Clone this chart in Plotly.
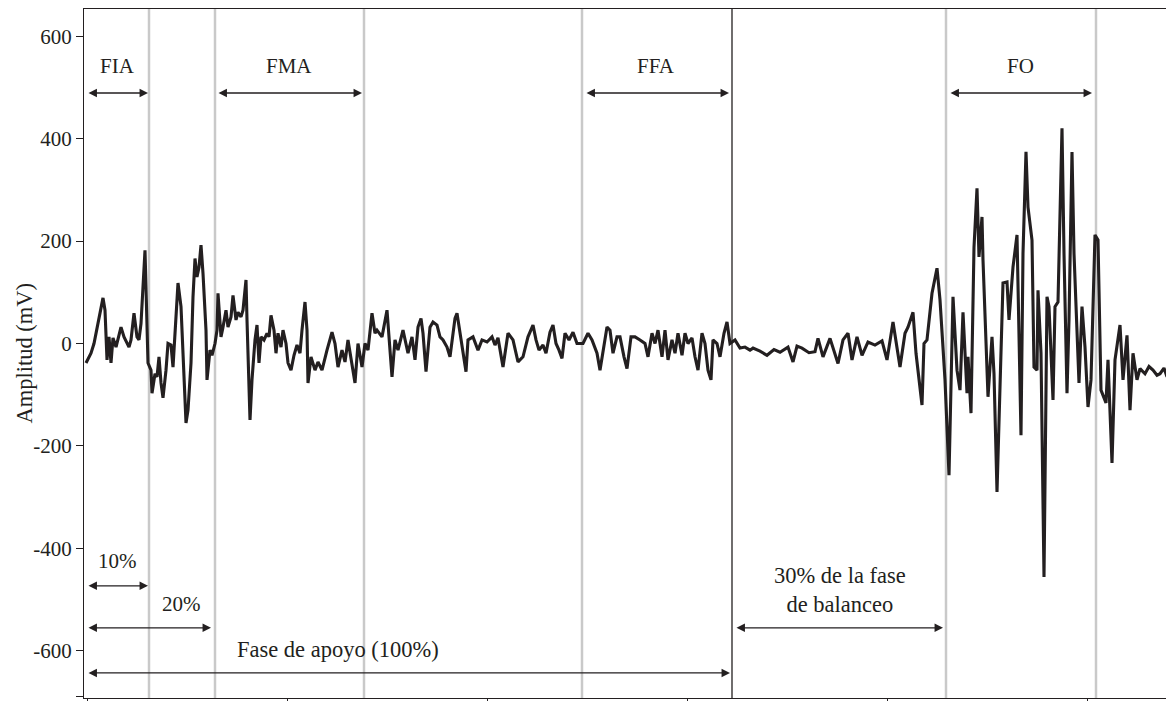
import plotly.graph_objects as go

# ---------------- data ----------------
# EMG trace: time (ms, origin at the first x tick) and amplitude (mV)
# early stance
t_early = [-1, 4, 7, 10, 13, 16, 18, 20, 22, 24, 26, 29, 34, 37, 42, 44, 47, 50, 52, 54,
           58, 59, 61, 64, 65, 68, 70, 72, 74, 76, 79, 81, 84, 86, 89, 91, 94, 96, 99, 101,
           104, 106, 108, 110, 112, 114, 116, 119, 120, 123, 125, 128, 130, 131, 134, 136, 139, 141, 144, 146,
           149, 151, 154, 156, 159, 160, 163, 165, 168, 170, 172, 174, 177, 180, 182, 184, 187, 189, 191, 194,
           196, 199, 201, 204, 207, 210, 213, 215, 218, 220, 221, 224]
v_early = [-38, -19, 0, 32, 65, 89, 65, -32, 13, -38, 11, -7, 32, 13, -7, 7, 59, 13, 7, 39,
           182, 91, -38, -52, -97, -59, -65, -26, -77, -106, -52, 0, -3, -46, 59, 118, 72, -26, -155, -130,
           -38, 91, 166, 130, 149, 192, 137, 26, -71, -13, -23, 0, 26, 98, 13, 32, 65, 32, 52, 94,
           46, 61, 52, 65, 124, 46, -149, -71, 7, 36, -38, 13, 7, 20, 13, 55, 26, -19, 20, -7,
           26, 0, -38, -52, -23, -3, -19, 26, 81, 26, -77, -26]
# mid stance
t_mid = [228, 231, 235, 240, 245, 248, 251, 255, 258, 261, 265, 268, 271, 275, 278, 281, 285, 288, 290, 295,
         300, 305, 308, 311, 316, 319, 321, 325, 328, 331, 334, 336, 339, 343, 346, 350, 353, 356, 360, 363,
         366, 368, 370, 373, 376, 379, 381, 386, 391, 395, 400, 405, 408, 411, 416, 421, 426, 431, 436, 441]
v_mid = [-52, -36, -52, -13, 22, 0, -46, -13, -36, 7, -46, -77, 0, -46, 0, -13, 59, 20, 26, 13,
         65, -65, 7, -13, 26, 0, -19, 13, -32, 32, 49, 20, -55, 32, 42, 36, 13, 7, -7, -26,
         20, 49, 59, 20, -26, -55, 7, 13, -13, 7, 3, 13, -3, 11, -46, 20, 7, -36, -26, 13]
# late stance
t_late = [446, 449, 452, 456, 459, 463, 466, 469, 472, 475, 478, 482, 486, 490, 496, 501, 505, 510, 513, 516,
          520, 523, 526, 530, 533, 537, 540, 544, 548, 553, 558, 561, 565, 568, 571, 575, 578, 581, 585, 588,
          591, 595, 598, 601, 605, 608, 611, 615, 618, 621, 624, 626, 630, 633, 637, 640, 643, 648, 653, 658,
          663]
v_late = [36, 7, -13, -3, -19, 22, 36, 0, -13, -29, 20, 7, 22, 0, 0, 20, 7, -19, -52, -13,
          32, 26, -19, 13, 13, -26, -49, 13, 13, 7, 0, -26, 20, 0, 26, -26, 26, -32, 7, -19,
          20, -23, 20, 0, 11, -26, -52, 20, 0, -52, -71, 7, 0, -26, 20, 42, 0, 7, -9, -7,
          -13]
# swing
t_swing = [666, 673, 680, 687, 693, 701, 706, 710, 715, 722, 728, 731, 736, 743, 751, 756, 761, 765, 770, 775,
           781, 788, 795, 800, 806, 813, 818, 821, 826, 829, 835, 837, 840, 845, 850, 853, 858, 862, 866, 870,
           873, 876, 880, 881, 884, 887, 890, 892, 895, 896, 901, 905, 907, 910, 913, 916, 920, 922, 926, 930,
           934, 936, 939, 941, 945, 947, 950, 951, 954, 957, 960, 962, 966, 968, 971, 975, 977, 980, 982, 985,
           987, 990, 992, 995, 998, 1001, 1004, 1008, 1011, 1014, 1019, 1021, 1025, 1028, 1033, 1036, 1040, 1043, 1046, 1050,
           1053, 1058, 1062, 1066, 1070, 1073, 1077, 1080, 1085]
v_swing = [-9, -15, -23, -12, -17, -7, -36, -5, -9, -18, -16, 10, -26, 10, -39, 7, 20, -32, 13, -23,
           3, -3, 5, -32, 42, -46, 20, 32, 61, -19, -120, 0, 7, 98, 147, 85, -71, -257, 91, -52,
           -91, 61, -97, -26, -136, 188, 303, 169, 247, 163, -104, 13, -59, -290, -85, 118, 120, 46, 149, 212,
           -179, 176, 374, 266, 202, -46, -52, 104, -19, -456, 91, 72, -110, 72, 81, 420, 176, -97, 46, 374,
           176, 32, -77, 72, -7, -124, -71, 212, 202, -91, -116, -32, -233, -32, 36, -71, 16, -130, -19, -71,
           -49, -59, -45, -52, -62, -59, -48, -65, -38]

# phase boundaries (ms)
phase_boundaries = [62, 128, 277, 495, 859, 1009]
stance_end = 645

# phase labels on top
top_labels = ["FIA", "FMA", "FFA", "FO"]
top_label_x = [30, 202, 569, 933]
top_spans = [(0, 61), (130, 275), (498, 642), (862, 1005)]

# bottom duration annotations
bottom_labels = ["10%", "20%", "Fase de apoyo (100%)", "30% de la fase<br>de balanceo"]
bottom_label_x = [30, 94, 251, 753]
bottom_label_y = [-424, -508, -598, -481]
bottom_label_size = [21, 21, 22.5, 22.5]
bottom_spans = [(0, 61), (0, 124), (0, 643), (648, 856)]
bottom_span_y = [-473, -555, -643, -555]

y_tick_vals = [-690, -600, -400, -200, 0, 200, 400, 600]
y_tick_text = ["", "-600", "-400", "-200", "0", "200", "400", "600"]
x_tick_vals = [0, 200, 400, 600, 800, 1000]

INK = "#231f20"
FONT = "Liberation Serif"

time_ms = t_early + t_mid + t_late + t_swing
amplitude_mv = v_early + v_mid + v_late + v_swing

fig = go.Figure()
fig.add_trace(go.Scatter(
    x=time_ms, y=amplitude_mv, mode="lines",
    line=dict(color=INK, width=3.1), hoverinfo="skip", showlegend=False,
))

shapes = []
for b in phase_boundaries:
    shapes.append(dict(type="line", xref="x", yref="paper", x0=b, x1=b, y0=0, y1=1,
                       line=dict(color="#c9c9c9", width=2.5), layer="below"))
shapes.append(dict(type="line", xref="x", yref="paper", x0=stance_end, x1=stance_end, y0=0, y1=1,
                   line=dict(color=INK, width=1.3), layer="above"))

annotations = []
top_arrow_y = 489
top_text_y = 541
for lab, lx, (a0, a1) in zip(top_labels, top_label_x, top_spans):
    annotations.append(dict(x=lx, y=top_text_y, xref="x", yref="y", text=lab, showarrow=False,
                            font=dict(family=FONT, size=21, color=INK)))
    annotations.append(dict(x=a1, y=top_arrow_y, ax=a0, ay=top_arrow_y, xref="x", yref="y",
                            axref="x", ayref="y", text="", showarrow=True, arrowside="end+start",
                            arrowhead=2, arrowsize=1.3, arrowwidth=1.3, arrowcolor=INK,
                            standoff=0, startstandoff=0))
for lab, lx, ly, fs, (a0, a1), ay in zip(bottom_labels, bottom_label_x, bottom_label_y,
                                         bottom_label_size, bottom_spans, bottom_span_y):
    annotations.append(dict(x=lx, y=ly, xref="x", yref="y", text=lab, showarrow=False,
                            font=dict(family=FONT, size=fs, color=INK)))
    annotations.append(dict(x=a1, y=ay, ax=a0, ay=ay, xref="x", yref="y",
                            axref="x", ayref="y", text="", showarrow=True, arrowside="end+start",
                            arrowhead=2, arrowsize=1.3, arrowwidth=1.3, arrowcolor=INK,
                            standoff=0, startstandoff=0))
# y-axis title
annotations.append(dict(x=-0.055, y=0.5, xref="paper", yref="paper", text="Amplitud (mV)",
                        textangle=-90, showarrow=False, xanchor="center", yanchor="middle",
                        font=dict(family=FONT, size=22.5, color=INK)))

fig.update_layout(
    width=1166, height=693,
    margin=dict(l=76, r=0, t=1, b=3, autoexpand=False),
    paper_bgcolor="white", plot_bgcolor="white",
    font=dict(family=FONT, size=21, color=INK),
    shapes=shapes, annotations=annotations,
    showlegend=False,
    xaxis=dict(range=[-3, 1087], showline=True, linecolor=INK, linewidth=1.3, mirror=True,
               ticks="outside", ticklen=5, tickcolor=INK, tickwidth=1.2, tickvals=x_tick_vals,
               showticklabels=False, showgrid=False, zeroline=False, automargin=False),
    yaxis=dict(range=[-692, 653], showline=True, linecolor=INK, linewidth=1.3,
               ticks="outside", ticklen=7, tickcolor=INK, tickwidth=1.2,
               tickvals=y_tick_vals, ticktext=y_tick_text, automargin=False,
               showgrid=False, zeroline=False),
)

fig.write_html("out.html", config={"displayModeBar": False})
